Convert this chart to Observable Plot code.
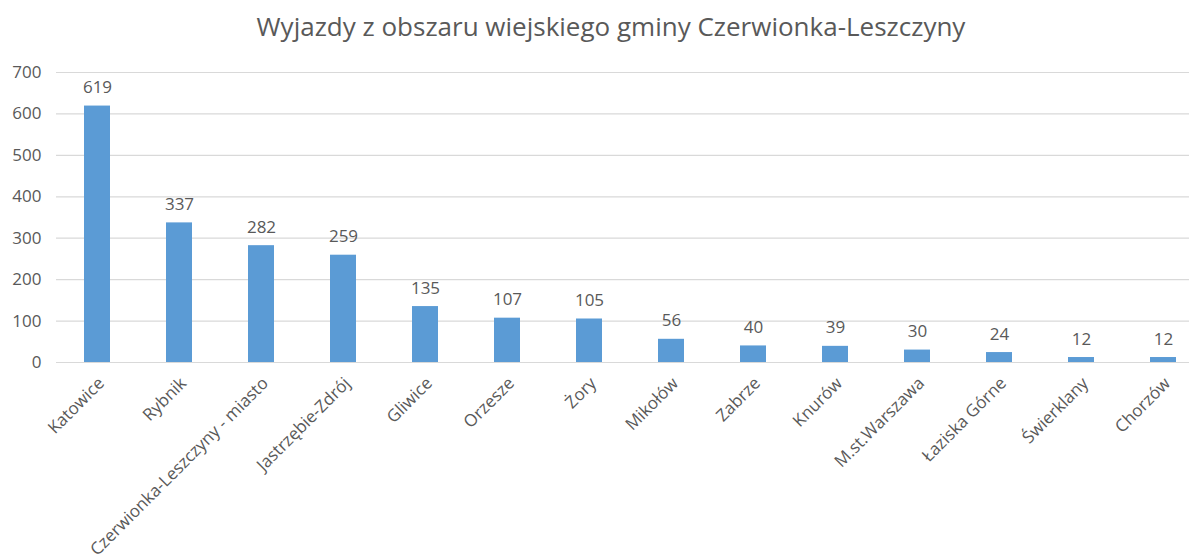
<!DOCTYPE html>
<html><head><meta charset="utf-8">
<script src="https://cdn.jsdelivr.net/npm/d3@7"></script>
<script src="https://cdn.jsdelivr.net/npm/@observablehq/plot@0.6"></script>
<style>
html,body{margin:0;padding:0;background:#fff;overflow:hidden;width:1189px;height:557px;}
#title{position:absolute;top:8px;left:0;width:1222px;text-align:center;font-family:"Open Sans",sans-serif;font-size:26px;color:#595959;white-space:nowrap;}
#chart{position:absolute;top:50px;left:0;}
#chart svg{max-width:none;}
</style></head>
<body>
<div id="title">Wyjazdy z obszaru wiejskiego gminy Czerwionka-Leszczyny</div>
<div id="chart"></div>
<script>
const categories = ["Katowice","Rybnik","Czerwionka-Leszczyny - miasto","Jastrzębie-Zdrój","Gliwice","Orzesze","Żory","Mikołów","Zabrze","Knurów","M.st.Warszawa","Łaziska Górne","Świerklany","Chorzów"];
const values = [619,337,282,259,135,107,105,56,40,39,30,24,12,12];
const yTicks = [0,100,200,300,400,500,600,700];

const data = categories.map((c,i)=>({city:c, value:values[i]}));
const txt = "#595959";
const plot = Plot.plot({
  width: 1204, height: 507,
  marginLeft: 56, marginRight: 0, marginTop: 22, marginBottom: 195,
  style: {fontFamily: "'Open Sans', sans-serif", fontSize: "16px", color: txt, background: "transparent", maxWidth: "none"},
  x: {domain: categories, paddingInner: 0.683, paddingOuter: 0.3415, align: 0.5, label: null},
  y: {domain: [0,700], label: null},
  marks: [
    Plot.gridY(yTicks, {stroke: "#d9d9d9", strokeOpacity: 1, strokeWidth: 1.2}),
    Plot.axisY(yTicks, {tickSize: 0, tickPadding: 15, fontSize: 17, fill: txt, label: null}),
    Plot.axisX({tickSize: 0, tickPadding: 18, dx: 4, tickRotate: -45, fontSize: 17, fill: txt, label: null}),
    Plot.barY(data, {x: "city", y: "value", fill: "#5b9bd5"}),
    Plot.text(data, {x: "city", y: "value", text: d => String(d.value), dy: -13, lineAnchor: "bottom", fontSize: 17, fill: txt})
  ]
});
document.getElementById("chart").appendChild(plot);
</script>
</body></html>
